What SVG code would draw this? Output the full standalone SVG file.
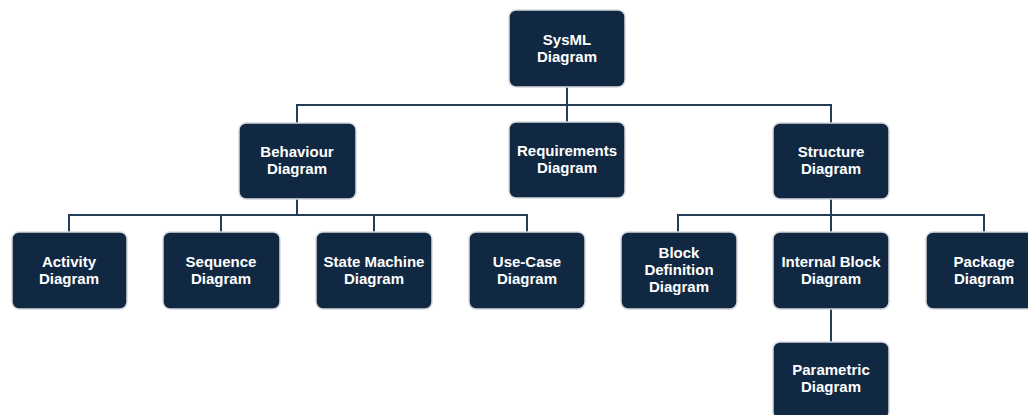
<svg xmlns="http://www.w3.org/2000/svg" width="1028" height="415" viewBox="0 0 1028 415">
  <style>
    .box { fill: #112842; stroke: #d5d9de; stroke-width: 1.5; }
    .lbl { font-family: "Liberation Sans", Arial, sans-serif; font-weight: bold; font-size: 15px; fill: #ffffff; text-anchor: middle; }
    .wire { fill: none; stroke: #243e58; stroke-width: 2; }
  </style>
  <rect width="1028" height="415" fill="#ffffff"/>

  <!-- tree connectors -->
  <g id="connectors">
    <path class="wire" d="M567,87 V105 M297,123 V105 H831 V123 M567,105 V122"/>
    <path class="wire" d="M297,199 V215 M69,232 V215 H527 V232 M221,215 V232 M374,215 V232"/>
    <path class="wire" d="M831,199 V215 M678,232 V215 H984 V232 M831,215 V232"/>
    <path class="wire" d="M831,309 V342"/>
  </g>

  <g id="sysml">
    <rect class="box" x="509" y="10" width="116" height="77" rx="7"/>
    <text class="lbl" x="567" y="45">SysML</text>
    <text class="lbl" x="567" y="62">Diagram</text>
  </g>

  <g id="behaviour">
    <rect class="box" x="239" y="123" width="117" height="76" rx="7"/>
    <text class="lbl" x="297" y="157">Behaviour</text>
    <text class="lbl" x="297" y="174">Diagram</text>
  </g>
  <g id="requirements">
    <rect class="box" x="509" y="122" width="116" height="76" rx="7"/>
    <text class="lbl" x="567" y="156">Requirements</text>
    <text class="lbl" x="567" y="173">Diagram</text>
  </g>
  <g id="structure">
    <rect class="box" x="773" y="123" width="116" height="76" rx="7"/>
    <text class="lbl" x="831" y="157">Structure</text>
    <text class="lbl" x="831" y="174">Diagram</text>
  </g>

  <g id="activity">
    <rect class="box" x="12" y="232" width="115" height="77" rx="7"/>
    <text class="lbl" x="69" y="266.5">Activity</text>
    <text class="lbl" x="69" y="283.5">Diagram</text>
  </g>
  <g id="sequence">
    <rect class="box" x="163" y="232" width="117" height="77" rx="7"/>
    <text class="lbl" x="221" y="266.5">Sequence</text>
    <text class="lbl" x="221" y="283.5">Diagram</text>
  </g>
  <g id="state-machine">
    <rect class="box" x="316" y="232" width="116" height="77" rx="7"/>
    <text class="lbl" x="374" y="266.5">State Machine</text>
    <text class="lbl" x="374" y="283.5">Diagram</text>
  </g>
  <g id="use-case">
    <rect class="box" x="469" y="232" width="116" height="77" rx="7"/>
    <text class="lbl" x="527" y="266.5">Use-Case</text>
    <text class="lbl" x="527" y="283.5">Diagram</text>
  </g>

  <g id="block-definition">
    <rect class="box" x="621" y="232" width="116" height="77" rx="7"/>
    <text class="lbl" x="679" y="257.5">Block</text>
    <text class="lbl" x="679" y="274.5">Definition</text>
    <text class="lbl" x="679" y="291.5">Diagram</text>
  </g>
  <g id="internal-block">
    <rect class="box" x="773" y="232" width="116" height="77" rx="7"/>
    <text class="lbl" x="831" y="266.5">Internal Block</text>
    <text class="lbl" x="831" y="283.5">Diagram</text>
  </g>
  <g id="package">
    <rect class="box" x="926" y="232" width="116" height="77" rx="7"/>
    <text class="lbl" x="984" y="266.5">Package</text>
    <text class="lbl" x="984" y="283.5">Diagram</text>
  </g>

  <g id="parametric">
    <rect class="box" x="773" y="342" width="116" height="77" rx="7"/>
    <text class="lbl" x="831" y="375">Parametric</text>
    <text class="lbl" x="831" y="392">Diagram</text>
  </g>
</svg>
